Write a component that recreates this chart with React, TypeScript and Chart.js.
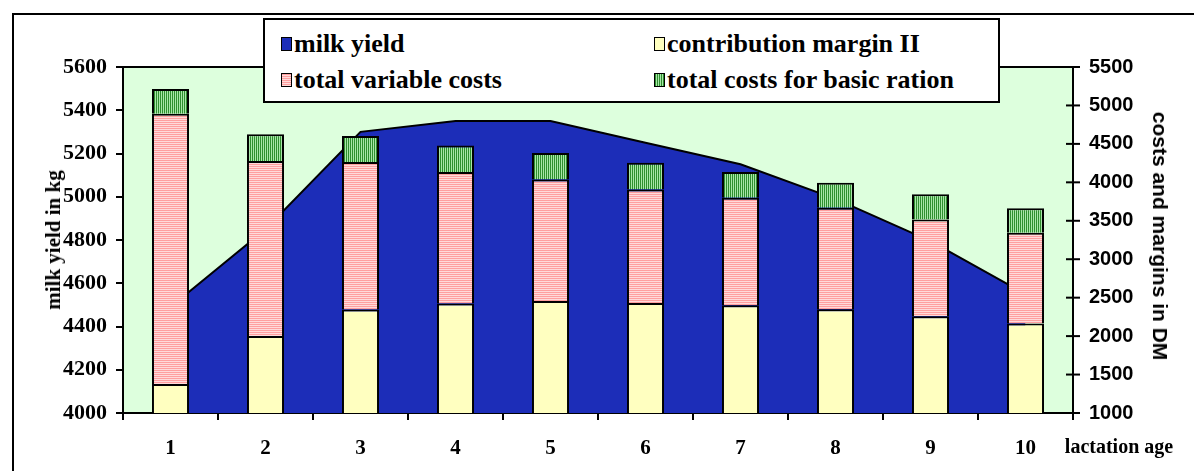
import React, { useEffect, useRef } from 'react';
import { Chart, registerables } from 'chart.js';

Chart.register(...registerables);

const categories = ['1', '2', '3', '4', '5', '6', '7', '8', '9', '10'];
const seriesLabels = ['milk yield', 'contribution margin II', 'total variable costs', 'total costs for basic ration'];
const milkYield = [4490, 4850, 5300, 5350, 5350, 5250, 5150, 4990, 4795, 4550];
const contributionMargin = [1378, 2003, 2345, 2423, 2458, 2432, 2401, 2349, 2258, 2163];
const variableCosts = [3515, 2273, 1918, 1710, 1580, 1476, 1398, 1320, 1259, 1181];
const basicRationCosts = [321, 348, 339, 347, 342, 347, 334, 326, 329, 320];
const leftAxis = { min: 4000, max: 5600, step: 200 };
const rightAxis = { min: 1000, max: 5500, step: 500 };
const leftTitle = 'milk yield in kg';
const rightTitle = 'costs and margins in DM';
const xTitle = 'lactation age';

const BLUE = '#1c2db8';
const YELLOW = '#ffffc0';
const PINK_STRIPES = ['#ff9f9f', '#ffdada'];
const GREEN_STRIPES = ['#2f8f2f', '#a8e6a8'];
const PLOT_BG = '#ddffdd';
const SERIF = "'Liberation Serif', 'Times New Roman', serif";
const SANS = "'Liberation Sans', Arial, sans-serif";

function stripePattern(colors: string[], vertical: boolean): CanvasPattern | string {
  const c = document.createElement('canvas');
  const n = colors.length;
  c.width = vertical ? n : 1;
  c.height = vertical ? 1 : n;
  const ctx = c.getContext('2d');
  if (!ctx) return colors[0];
  colors.forEach((col, i) => {
    ctx.fillStyle = col;
    if (vertical) ctx.fillRect(i, 0, 1, 1);
    else ctx.fillRect(0, i, 1, 1);
  });
  return ctx.createPattern(c, 'repeat') || colors[0];
}

const swatchCss = [
  { background: BLUE },
  { background: YELLOW },
  { background: `repeating-linear-gradient(to bottom, ${PINK_STRIPES[0]} 0px, ${PINK_STRIPES[0]} 1px, ${PINK_STRIPES[1]} 1px, ${PINK_STRIPES[1]} 2px)` },
  { background: `repeating-linear-gradient(to right, ${GREEN_STRIPES[0]} 0px, ${GREEN_STRIPES[0]} 1px, ${GREEN_STRIPES[1]} 1px, ${GREEN_STRIPES[1]} 2px)` },
];

export default function App() {
  const ref = useRef<HTMLCanvasElement | null>(null);

  useEffect(() => {
    if (!ref.current) return;
    const pink = stripePattern(PINK_STRIPES, false);
    const green = stripePattern(GREEN_STRIPES, true);

    const framePlugin = {
      id: 'frame',
      beforeDraw(chart: any) {
        const { ctx, chartArea: a } = chart;
        ctx.save();
        ctx.fillStyle = PLOT_BG;
        ctx.fillRect(a.left, a.top, a.right - a.left, a.bottom - a.top);
        ctx.restore();
      },
      afterDraw(chart: any) {
        const { ctx, chartArea: a } = chart;
        ctx.save();
        ctx.strokeStyle = '#000';
        ctx.lineWidth = 2;
        ctx.beginPath();
        ctx.moveTo(a.left - 1, a.top);
        ctx.lineTo(a.right + 1, a.top);
        ctx.stroke();
        const yR = chart.scales.yR;
        yR.ticks.forEach((t: any) => {
          const y = yR.getPixelForValue(t.value);
          ctx.beginPath();
          ctx.moveTo(a.right - 7, y);
          ctx.lineTo(a.right + 7, y);
          ctx.stroke();
        });
        ctx.restore();
      },
    };

    const plain = (v: any) => String(v);

    const chart = new Chart(ref.current, {
      type: 'bar',
      data: {
        labels: categories,
        datasets: [
          {
            type: 'line',
            label: seriesLabels[0],
            data: milkYield,
            yAxisID: 'yL',
            backgroundColor: BLUE,
            borderColor: '#000',
            borderWidth: 2,
            pointRadius: 0,
            tension: 0,
            fill: 'start',
            order: 2,
          } as any,
          {
            label: seriesLabels[1],
            data: contributionMargin,
            yAxisID: 'yR',
            backgroundColor: YELLOW,
            borderColor: '#000',
            borderWidth: 2,
            stack: 's',
            order: 1,
          },
          {
            label: seriesLabels[2],
            data: variableCosts,
            yAxisID: 'yR',
            backgroundColor: pink as any,
            borderColor: '#000',
            borderWidth: 2,
            stack: 's',
            order: 1,
          },
          {
            label: seriesLabels[3],
            data: basicRationCosts,
            yAxisID: 'yR',
            backgroundColor: green as any,
            borderColor: '#000',
            borderWidth: 2,
            stack: 's',
            order: 1,
          },
        ],
      },
      options: {
        animation: false,
        responsive: false,
        maintainAspectRatio: false,
        layout: { padding: { top: 67, left: 0, right: 0, bottom: 0 } },
        datasets: { bar: { categoryPercentage: 1, barPercentage: 0.39 } },
        plugins: { legend: { display: false }, tooltip: { enabled: false }, title: { display: false } },
        scales: {
          x: {
            stacked: true,
            offset: true,
            grid: { display: true, drawOnChartArea: false, drawTicks: true, tickLength: 7, color: '#000', lineWidth: 2, offset: true },
            border: { display: true, color: '#000', width: 2 },
            ticks: { color: '#000', font: { family: SERIF, weight: 'bold', size: 21 }, padding: 16, maxRotation: 0 },
            afterFit: (s: any) => { s.height = 58; },
          },
          yL: {
            type: 'linear',
            position: 'left',
            min: leftAxis.min,
            max: leftAxis.max,
            grid: { display: true, drawOnChartArea: false, drawTicks: true, tickLength: 7, color: '#000', lineWidth: 2 },
            border: { display: true, color: '#000', width: 2 },
            ticks: { stepSize: leftAxis.step, color: '#000', font: { family: SERIF, weight: 'bold', size: 22 }, padding: 9, callback: plain },
            afterFit: (s: any) => { s.width = 123; },
          },
          yR: {
            type: 'linear',
            position: 'right',
            stacked: true,
            min: rightAxis.min,
            max: rightAxis.max,
            grid: { display: false, drawOnChartArea: false, drawTicks: false },
            border: { display: true, color: '#000', width: 2 },
            ticks: { stepSize: rightAxis.step, color: '#000', font: { family: SANS, weight: 'bold', size: 20 }, padding: 16, callback: plain },
            afterFit: (s: any) => { s.width = 121; },
          },
        },
      } as any,
      plugins: [framePlugin],
    });
    return () => chart.destroy();
  }, []);

  const legendPos = [
    { sx: 281, tx: 294, y: 44 },
    { sx: 654, tx: 667, y: 44 },
    { sx: 281, tx: 294, y: 80 },
    { sx: 654, tx: 667, y: 80 },
  ];

  return (
    <div style={{ position: 'absolute', left: 0, top: 0, width: 1194, height: 471, overflow: 'hidden', background: '#fff' }}>
      <canvas ref={ref} width={1194} height={471} style={{ position: 'absolute', left: 0, top: 0, width: 1194, height: 471 }} />
      <div style={{ position: 'absolute', left: 12, top: 13, width: 1300, height: 600, borderLeft: '2px solid #000', borderTop: '2px solid #000', pointerEvents: 'none' }} />
      <div style={{ position: 'absolute', left: 263, top: 18, width: 733, height: 81, border: '2px solid #000', background: '#fff' }} />
      {seriesLabels.map((lab, i) => (
        <React.Fragment key={lab}>
          <div style={{ position: 'absolute', left: legendPos[i].sx, top: legendPos[i].y - 7, width: 9, height: 12, border: '1.5px solid #000', ...swatchCss[i] }} />
          <div style={{ position: 'absolute', left: legendPos[i].tx, top: legendPos[i].y - 15, height: 30, lineHeight: '30px', fontFamily: SERIF, fontWeight: 'bold', fontSize: 26, color: '#000', whiteSpace: 'nowrap' }}>{lab}</div>
        </React.Fragment>
      ))}
      <div style={{ position: 'absolute', left: 53, top: 240, transform: 'translate(-50%, -50%) rotate(-90deg)', fontFamily: SERIF, fontWeight: 'bold', fontSize: 21, lineHeight: '22px', whiteSpace: 'nowrap', color: '#000' }}>{leftTitle}</div>
      <div style={{ position: 'absolute', left: 1160, top: 236, transform: 'translate(-50%, -50%) rotate(90deg)', fontFamily: SANS, fontWeight: 'bold', fontSize: 21, lineHeight: '24px', whiteSpace: 'nowrap', color: '#000' }}>{rightTitle}</div>
      <div style={{ position: 'absolute', left: 1119, top: 446, transform: 'translate(-50%, -50%)', fontFamily: SERIF, fontWeight: 'bold', fontSize: 20, lineHeight: '24px', whiteSpace: 'nowrap', color: '#000' }}>{xTitle}</div>
    </div>
  );
}
